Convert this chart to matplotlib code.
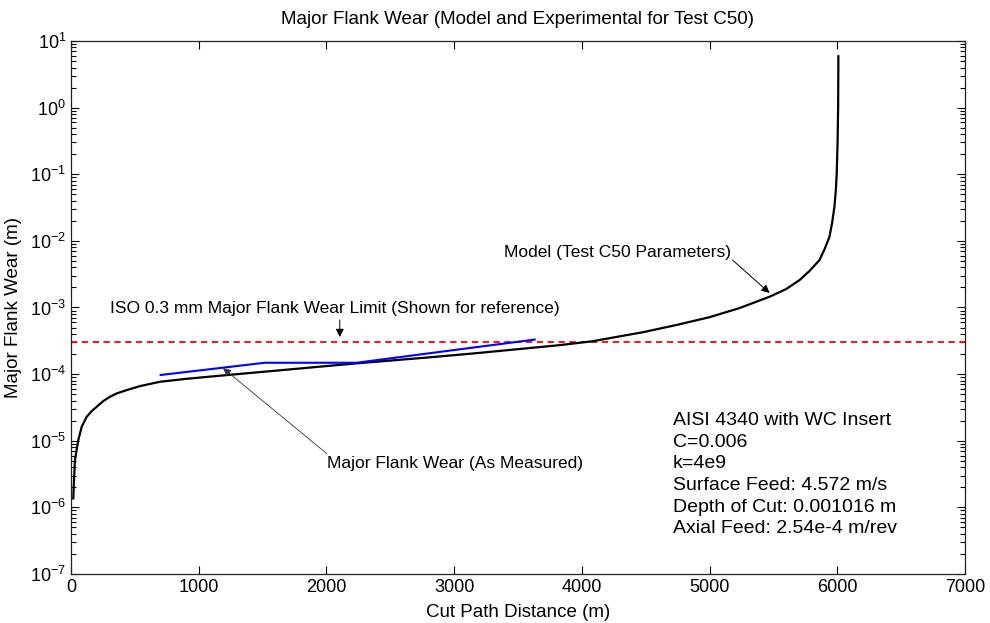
import matplotlib
matplotlib.use("Agg")
import matplotlib.pyplot as plt
from matplotlib.ticker import LogLocator, FixedLocator, NullFormatter, LogFormatterSciNotation

plt.rcParams['font.family'] = ['Liberation Sans', 'DejaVu Sans']
plt.rcParams['mathtext.default'] = 'regular'
plt.rcParams['axes.unicode_minus'] = False

# Model curve (Test C50 parameters)
model_x = [18, 23.5, 31, 57, 84, 123, 162, 201, 253, 305, 358, 436, 540, 696, 905,
           1218, 1700, 2235, 2800, 3148, 3826, 4077, 4478, 4739, 5000, 5235, 5470,
           5600, 5705, 5782, 5861, 5900, 5939, 5960, 5978, 5989, 5996, 6003, 6007, 6009]
model_y = [1.36e-6, 2.56e-6, 5.1e-6, 1.02e-5, 1.62e-5, 2.29e-5, 2.78e-5, 3.23e-5,
           3.94e-5, 4.56e-5, 5.13e-5, 5.75e-5, 6.6e-5, 7.67e-5, 8.5e-5, 9.66e-5,
           1.17e-4, 1.45e-4, 1.78e-4, 2.04e-4, 2.72e-4, 3.1e-4, 4.25e-4, 5.45e-4,
           7.15e-4, 9.8e-4, 1.45e-3, 1.89e-3, 2.58e-3, 3.52e-3, 5.15e-3, 7.45e-3,
           1.15e-2, 1.87e-2, 3.25e-2, 5.8e-2, 0.103, 0.327, 1.03, 5.9]

# Measured flank wear
meas_x = [702, 1518, 2235, 3631]
meas_y = [9.7e-5, 1.48e-4, 1.48e-4, 3.3e-4]

iso_limit = 3e-4

info_lines = ["AISI 4340 with WC Insert", "C=0.006", "k=4e9",
              "Surface Feed: 4.572 m/s", "Depth of Cut: 0.001016 m",
              "Axial Feed: 2.54e-4 m/rev"]

fig = plt.figure(figsize=(9.9, 6.23), dpi=100)
ax = fig.add_axes([0.0717, 0.0787, 0.903, 0.8555])

ax.plot(model_x, model_y, color='black', lw=1.6, zorder=3)
ax.plot(meas_x, meas_y, color='#0000ff', lw=1.5, zorder=4)
ax.axhline(iso_limit, color='#ff0000', lw=1.3, ls=(0, (3.5, 2.5)), zorder=2)

ax.set_yscale('log')
ax.set_xlim(0, 7000)
ax.set_ylim(1e-7, 1e1)
ax.xaxis.set_major_locator(FixedLocator([0, 1000, 2000, 3000, 4000, 5000, 6000, 7000]))
ax.yaxis.set_major_locator(LogLocator(base=10, numticks=20))
ax.yaxis.set_minor_locator(LogLocator(base=10, subs=range(2, 10), numticks=20))
ax.yaxis.set_minor_formatter(NullFormatter())
ax.yaxis.set_major_formatter(LogFormatterSciNotation())
ax.xaxis.get_offset_text().set_visible(False)
ax.yaxis.get_offset_text().set_visible(False)

ax.tick_params(which='both', direction='in', top=True, right=True,
               labelsize=13, colors='black')
ax.tick_params(which='major', length=6, width=0.8)
ax.tick_params(which='minor', length=3.5, width=0.8)
for s in ax.spines.values():
    s.set_linewidth(0.9)
    s.set_color('#222222')

ax.set_title("Major Flank Wear (Model and Experimental for Test C50)", fontsize=13.5, pad=12)
ax.set_xlabel("Cut Path Distance (m)", fontsize=13.5)
ax.set_ylabel("Major Flank Wear (m)", fontsize=13.5)
ax.xaxis.set_label_coords(0.5, -0.056)
ax.yaxis.set_label_coords(-0.055, 0.5)

arrow_kw = dict(arrowstyle='-|>', color='black', lw=0.7, mutation_scale=12,
                shrinkA=0, shrinkB=0)

# Model annotation
ax.text(5172, 6.8e-3, "Model (Test C50 Parameters)", ha='right', va='center', fontsize=12.5)
ax.annotate("", xy=(5470, 1.65e-3), xytext=(5180, 5.15e-3), arrowprops=arrow_kw)

# ISO limit annotation
ax.text(3826, 9.5e-4, "ISO 0.3 mm Major Flank Wear Limit (Shown for reference)",
        ha='right', va='center', fontsize=12.5)
ax.annotate("", xy=(2105, 3.6e-4), xytext=(2105, 6.5e-4), arrowprops=arrow_kw)

# Measured annotation
ax.text(2003, 4.6e-6, "Major Flank Wear (As Measured)", ha='left', va='center', fontsize=12.5)
ax.annotate("", xy=(1190, 1.23e-4), xytext=(2003, 6.4e-6),
            arrowprops=dict(arrowstyle='-|>', color='#333333', lw=0.6, mutation_scale=12,
                            shrinkA=0, shrinkB=0))

ax.text(4712, 2.7e-5, "\n".join(info_lines), ha='left', va='top', fontsize=14,
        linespacing=1.36)

fig.savefig("out.png", dpi=100)
